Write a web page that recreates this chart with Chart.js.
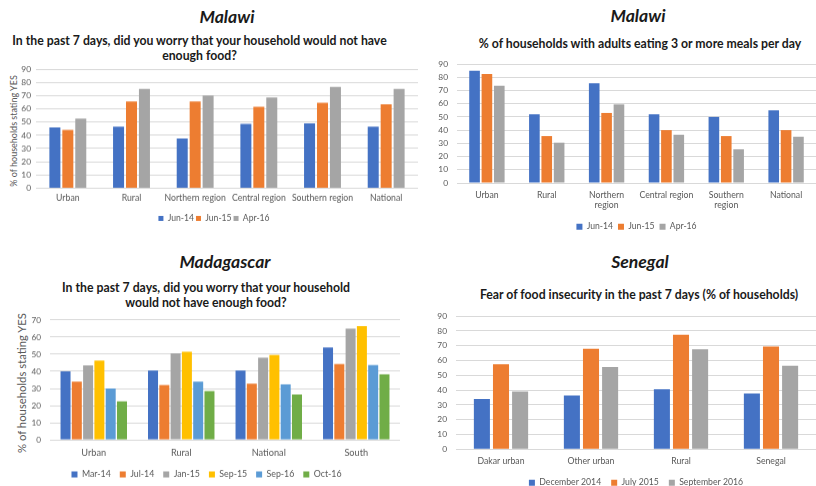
<!DOCTYPE html>
<html>
<head>
<meta charset="utf-8">
<script src="https://cdn.jsdelivr.net/npm/chart.js@4.4.1/dist/chart.umd.min.js"></script>
<style>
  html, body { margin: 0; padding: 0; background: #fff; }
  body { width: 816px; height: 486px; position: relative; overflow: hidden; font-family: Lato, "Open Sans", sans-serif; }
  .country { position: absolute; width: 300px; text-align: center; font-weight: bold; font-style: italic; font-size: 17.6px; line-height: 20px; color: #1a1a1a; }
  .question { position: absolute; width: 440px; text-align: center; font-weight: bold; font-size: 12.25px; line-height: 15px; color: #1a1a1a; }
  .ytitle { position: absolute; width: 200px; text-align: center; color: #595959; transform: translate(-50%, -50%) rotate(-90deg); white-space: nowrap; }
  .box { position: absolute; }
</style>
</head>
<body>
  <div class="country" style="left:77px; top:6.7px;">Malawi</div>
  <div class="question" style="left:-20.5px; top:32.7px;">In the past 7 days, did you worry that your household would not have<br>enough food?</div>
  <div class="ytitle" style="left:13px; top:130.5px; font-size:9px; line-height:11px;">% of households stating YES</div>
  <div class="box" style="left:10px; top:59.3px; width:408px; height:172.7px;"><canvas id="c1"></canvas></div>

  <div class="country" style="left:488px; top:6.3px;">Malawi</div>
  <div class="question" style="left:420px; top:36.4px;">% of households with adults eating 3 or more meals per day</div>
  <div class="box" style="left:418px; top:50px; width:398px; height:191px;"><canvas id="c2"></canvas></div>

  <div class="country" style="left:75px; top:252px;">Madagascar</div>
  <div class="question" style="left:-14px; top:279.5px; line-height:15.8px;">In the past 7 days, did you worry that your household<br>would not have enough food?</div>
  <div class="ytitle" style="left:21px; top:383px; font-size:11.3px; line-height:13px;">% of households stating YES</div>
  <div class="box" style="left:13px; top:306.1px; width:387px; height:181.9px;"><canvas id="c3"></canvas></div>

  <div class="country" style="left:490px; top:251.7px;">Senegal</div>
  <div class="question" style="left:419px; top:286.9px;">Fear of food insecurity in the past 7 days (% of households)</div>
  <div class="box" style="left:418px; top:302px; width:398px; height:195px;"><canvas id="c4"></canvas></div>

<script>
// Survey series (percent of households)
const malawiRegions = ['Urban', 'Rural', 'Northern region', 'Central region', 'Southern region', 'National'];
const malawiRegionsWrapped = ['Urban', 'Rural', ['Northern', 'region'], 'Central region', ['Southern', 'region'], 'National'];
const malawiRounds = ['Jun-14', 'Jun-15', 'Apr-16'];

const worryJun14 = [46, 46.5, 37.5, 48.5, 49, 46.5];
const worryJun15 = [44, 65.5, 65.5, 61.5, 64.5, 63.5];
const worryApr16 = [52.5, 75, 70, 68.5, 76.5, 75];

const mealsJun14 = [85, 52, 75.5, 52, 50, 55];
const mealsJun15 = [82.5, 35.5, 53, 40, 35.5, 40];
const mealsApr16 = [73.5, 30.5, 59.5, 36.5, 25.5, 35];

const madaAreas = ['Urban', 'Rural', 'National', 'South'];
const madaRounds = ['Mar-14', 'Jul-14', 'Jan-15', 'Sep-15', 'Sep-16', 'Oct-16'];
const madaMar14 = [40, 40.5, 40.5, 54];
const madaJul14 = [34, 32, 32.8, 44.3];
const madaJan15 = [43.5, 50.5, 48, 65];
const madaSep15 = [46.3, 51.5, 49.6, 66.5];
const madaSep16 = [30, 34, 32.4, 43.7];
const madaOct16 = [22.5, 28.5, 26.5, 38.3];

const senAreas = ['Dakar urban', 'Other urban', 'Rural', 'Senegal'];
const senRounds = ['December 2014', 'July 2015', 'September 2016'];
const senDec14 = [34, 36.3, 40.6, 37.7];
const senJul15 = [57.4, 67.9, 77.4, 69.5];
const senSep16 = [39, 55.5, 67.5, 56.4];

const yMax90 = 90;
const yMax70 = 70;

// Office-style palette
const BLUE = '#4472C4', ORANGE = '#ED7D31', GRAY = '#A5A5A5',
      YELLOW = '#FFC000', LIGHTBLUE = '#5B9BD5', GREEN = '#70AD47';

const FONT = 'Lato, "Open Sans", sans-serif';
const TICK = '#595959';
const GRID = '#D9D9D9';

function ds(label, data, color) {
  return { label, data, backgroundColor: color, borderWidth: 0 };
}

function barChart(id, cfg) {
  return new Chart(document.getElementById(id), {
    type: 'bar',
    data: { labels: cfg.labels, datasets: cfg.datasets },
    options: {
      responsive: true,
      maintainAspectRatio: false,
      animation: false,
      devicePixelRatio: 1,
      datasets: { bar: { categoryPercentage: cfg.catPct, barPercentage: cfg.barPct } },
      layout: { padding: 0 },
      plugins: {
        legend: {
          position: 'bottom',
          fullSize: cfg.legendFull,
          labels: {
            boxWidth: cfg.box, boxHeight: cfg.box, padding: cfg.legendGap,
            color: TICK, font: { family: FONT, size: cfg.legendSize }
          }
        },
        tooltip: { enabled: false },
        title: { display: false }
      },
      scales: {
        x: {
          grid: { display: false, drawTicks: false },
          border: { display: false },
          ticks: { color: TICK, font: { family: FONT, size: cfg.xSize }, padding: cfg.xPad, maxRotation: 0, autoSkip: false },
          afterFit: s => { s.height = cfg.xHeight; }
        },
        y: {
          min: 0, max: cfg.max,
          grid: { color: GRID, lineWidth: 1, drawTicks: false },
          border: { display: false },
          ticks: { stepSize: 10, autoSkip: false, color: TICK, font: { family: FONT, size: cfg.ySize }, padding: cfg.yPad },
          afterFit: s => { s.width = cfg.yWidth; }
        }
      }
    }
  });
}

// Malawi: worry about food
barChart('c1', {
  labels: malawiRegions,
  datasets: [ds(malawiRounds[0], worryJun14, BLUE), ds(malawiRounds[1], worryJun15, ORANGE), ds(malawiRounds[2], worryApr16, GRAY)],
  max: yMax90, catPct: 0.61, barPct: 0.85,
  yWidth: 26, yPad: 5, ySize: 8.4,
  xSize: 8.7, xPad: 5, xHeight: 23.7,
  box: 5, legendGap: 2, legendSize: 8.6, legendFull: true
});

// Malawi: three or more meals per day
barChart('c2', {
  labels: malawiRegionsWrapped,
  datasets: [ds(malawiRounds[0], mealsJun14, BLUE), ds(malawiRounds[1], mealsJun15, ORANGE), ds(malawiRounds[2], mealsApr16, GRAY)],
  max: yMax90, catPct: 0.62, barPct: 0.86,
  yWidth: 39, yPad: 9, ySize: 8.4,
  xSize: 8.7, xPad: 7, xHeight: 34.4,
  box: 6, legendGap: 5, legendSize: 8.6, legendFull: false
});

// Madagascar: worry about food, six survey rounds
barChart('c3', {
  labels: madaAreas,
  datasets: [
    ds(madaRounds[0], madaMar14, BLUE), ds(madaRounds[1], madaJul14, ORANGE), ds(madaRounds[2], madaJan15, GRAY),
    ds(madaRounds[3], madaSep15, YELLOW), ds(madaRounds[4], madaSep16, LIGHTBLUE), ds(madaRounds[5], madaOct16, GREEN)
  ],
  max: yMax70, catPct: 0.774, barPct: 0.887,
  yWidth: 37, yPad: 9, ySize: 8.2,
  xSize: 9.2, xPad: 7.5, xHeight: 21,
  box: 6, legendGap: 9, legendSize: 8.8, legendFull: true
});

// Senegal: fear of food insecurity
barChart('c4', {
  labels: senAreas,
  datasets: [ds(senRounds[0], senDec14, BLUE), ds(senRounds[1], senJul15, ORANGE), ds(senRounds[2], senSep16, GRAY)],
  max: yMax90, catPct: 0.637, barPct: 0.84,
  yWidth: 38, yPad: 9, ySize: 8.4,
  xSize: 8.7, xPad: 6.5, xHeight: 19,
  box: 6, legendGap: 10, legendSize: 8.7, legendFull: false
});
</script>
</body>
</html>
